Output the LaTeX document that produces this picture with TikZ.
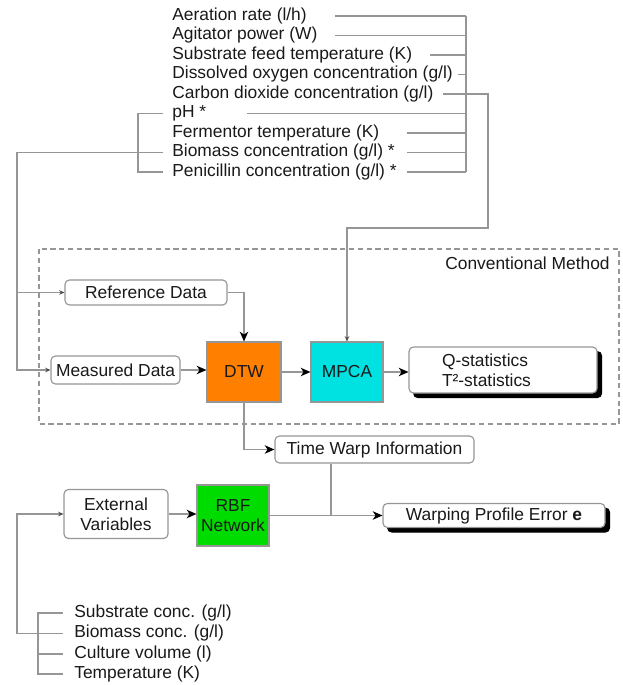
\documentclass[tikz,border=0pt]{standalone}
\usepackage{fontspec}
\setmainfont{Liberation Sans}
\usetikzlibrary{arrows.meta,shadows}
\newdimen\pxu \pxu=0.02cm
\definecolor{wiregray}{RGB}{150,150,150}
\definecolor{dtworange}{RGB}{255,128,0}
\definecolor{mpcacyan}{RGB}{0,225,225}
\definecolor{rbfgreen}{RGB}{0,220,0}

\begin{document}
\begin{tikzpicture}[x=0.02cm, y=-0.02cm, font=\fontsize{9.9}{11.5}\selectfont, text=black!90,
	wire/.style={draw=wiregray, line width=0.65pt},
	big/.style={-{Stealth[length=5.5pt,width=4.8pt,inset=1.6pt,black]}},
	small/.style={-{Stealth[length=3pt,width=2.6pt,inset=1pt,black!70]}},
	item/.style={anchor=west, inner sep=0pt, text height=7pt, text depth=2pt},
	databox/.style={draw=wiregray, fill=white, line width=0.65pt, rounded corners=2.5pt, inner sep=0pt, align=center},
	block/.style={draw=wiregray, line width=0.65pt, inner sep=0pt, align=center},
	shade/.style={copy shadow={shadow xshift=2.6pt, shadow yshift=-2.6pt, fill=black, draw=black}}]
		%%%%% START %%%%%
		\useasboundingbox (0,0) rectangle (622,685);
		
		% process variables
		\node[item] (aer) at (172,16) {Aeration rate (l/h)};
		\node[item] (agi) at (172,35.5) {Agitator power (W)};
		\node[item] (sfd) at (172,55) {Substrate feed temperature (K)};
		\node[item] (dox) at (172,74.5) {Dissolved oxygen concentration (g/l)};
		\node[item] (car) at (172,94) {Carbon dioxide concentration (g/l)};
		\node[item] (ph) at (172,113.5) {pH *};
		\node[item] (fer) at (172,133) {Fermentor temperature (K)};
		\node[item] (bio) at (172,152.5) {Biomass concentration (g/l) *};
		\node[item] (pen) at (172,172) {Penicillin concentration (g/l) *};
		
		\coordinate (bus) at (466,16);
		\draw[wire] (bus) -- (bus |- pen);
		\draw[wire] (335,0 |- aer) -- (bus |- aer);
		\draw[wire] (335,0 |- agi) -- (bus |- agi);
		\draw[wire] (430,0 |- sfd) -- (bus |- sfd);
		\draw[wire] (458,0 |- dox) -- (bus |- dox);
		\draw[wire] (247,0 |- ph) -- (bus |- ph);
		\draw[wire] (407,0 |- fer) -- (bus |- fer);
		\draw[wire] (407,0 |- bio) -- (bus |- bio);
		\draw[wire] (407,0 |- pen) -- (bus |- pen);
		
		% conventional method
		\draw[wire, dash pattern=on 3pt off 2pt] (39,249) rectangle (619,424);
		\node[anchor=east, inner sep=0pt] (conv) at (610,263) {Conventional Method};
		
		\node[databox, minimum width=162\pxu, minimum height=25\pxu] (ref) at (146,292.5) {Reference Data};
		\node[databox, minimum width=129\pxu, minimum height=28\pxu] (meas) at (115.5,370) {Measured Data};
		\node[block, fill=dtworange, minimum width=74\pxu, minimum height=60\pxu] (dtw) at (244,372) {DTW};
		\node[block, fill=mpcacyan, minimum width=72\pxu, minimum height=60\pxu] (mpca) at (347,372) {MPCA};
		\node[databox, shade, text width=122\pxu, inner xsep=33\pxu, minimum height=46\pxu, align=left] (out) at (503,370) {Q-statistics\\T²-statistics};
		
		\draw[wire, small] (443,0 |- car) -| (488,228) -| (mpca.north);
		\draw[wire] (163,0 |- ph) -| (138,0 |- pen) -- (163,0 |- pen);
		\draw[wire, small] (163,0 |- bio) -| (17,0 |- meas) -- (meas.west);
		\draw[wire, small] (17,0 |- ref) -- (ref.west);
		
		\draw[wire, big] (ref.east) -| (dtw.north);
		\draw[wire, big] (meas.east) -- (meas.east -| dtw.west);
		\draw[wire, big] (dtw.east) -- (mpca.west);
		\draw[wire, big] (mpca.east) -- (mpca.east -| out.west);
		
		% warping profile
		\node[databox, minimum width=199\pxu, minimum height=27\pxu] (tw) at (374.5,449.5) {Time Warp Information};
		\node[databox, minimum width=104\pxu, minimum height=49\pxu] (ext) at (116,514) {External\\Variables};
		\node[block, fill=rbfgreen, minimum width=72\pxu, minimum height=61\pxu] (rbf) at (233,515.5) {RBF\\Network};
		\node[databox, shade, minimum width=222\pxu, minimum height=24\pxu] (wpe) at (494,515.5) {Warping Profile Error \textbf{e}};
		
		\draw[wire, big] (dtw.south) |- (tw.west);
		\coordinate (join) at (331,515.5);
		\draw[wire] (tw.south -| join) -- (join);
		\draw[wire, big] (ext.east) -- (ext.east -| rbf.west);
		\draw[wire, big] (rbf.east) -- (wpe.west);
		
		% external variables
		\node[item] (sub) at (74,613) {Substrate conc. (g/l)};
		\node[item] (bms) at (74,633.5) {Biomass conc. (g/l)};
		\node[item] (vol) at (74,654) {Culture volume (l)};
		\node[item] (tmp) at (74,674) {Temperature (K)};
		
		\draw[wire] (63,0 |- sub) -| (38,0 |- tmp) -- (63,0 |- tmp);
		\draw[wire] (38,0 |- vol) -- (63,0 |- vol);
		\draw[wire, small] (63,0 |- bms) -| (17,0 |- ext) -- (ext.west);
		%%%%% END %%%%%
\end{tikzpicture}
\end{document}
